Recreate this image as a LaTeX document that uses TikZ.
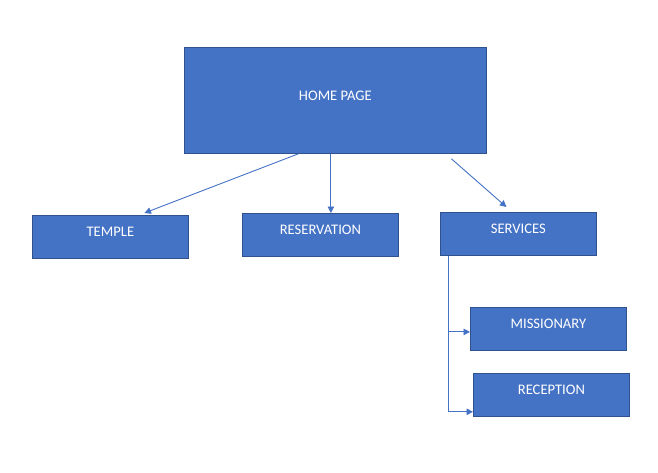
\documentclass[tikz,border=0pt]{standalone}
\usepackage{fontspec}
\setmainfont{Carlito}
\usetikzlibrary{arrows.meta}
\definecolor{boxblue}{HTML}{4472C4}
\definecolor{boxedge}{HTML}{2F528F}
\tikzset{
  box/.style={draw=boxedge, fill=boxblue, line width=0.8pt, text=white,
    font=\fontsize{14.6}{16}\selectfont, inner sep=0pt, anchor=north west,
    minimum width=156pt, text height=21pt, text depth=22pt},
  conn/.style={draw=boxblue, line width=0.9pt,
    -{Triangle[width=6.5pt,length=6.5pt]}}
}
\begin{document}
\begin{tikzpicture}[x=1pt,y=-1pt]
    \useasboundingbox (0,0) rectangle (658,472);
    \node[box, minimum width=302pt, text height=52.7pt, text depth=53.3pt]
      (home) at (184,47) {HOME PAGE};
    \node[box] (temple) at (32,215) {TEMPLE};
    \node[box] (reservation) at (242,213) {RESERVATION};
    \node[box] (services) at (440,212) {SERVICES};
    \node[box] (missionary) at (470,307) {MISSIONARY};
    \node[box] (reception) at (473,373) {RECEPTION};
    % from the home page
    \draw[conn] ([xshift=-37pt]home.south)
      -- ([xshift=34pt,yshift=2pt]temple.north);
    \draw[conn] ([xshift=-4.5pt]home.south)
      -- ([xshift=-4.5pt]home.south |- reservation.north);
    \draw[conn] ([xshift=116pt,yshift=-5pt]home.south)
      -- ([xshift=-12pt,yshift=5pt]services.north);
    % services branch
    \coordinate (svfoot) at ([xshift=-70pt]services.south);
    \coordinate (mspoint) at ([yshift=-3pt]missionary.west);
    \coordinate (branch) at (svfoot |- mspoint);
    \draw[conn] (svfoot) |- ([yshift=5pt]reception.south west);
    \draw[conn] (branch) -- (mspoint);
\end{tikzpicture}
\end{document}
